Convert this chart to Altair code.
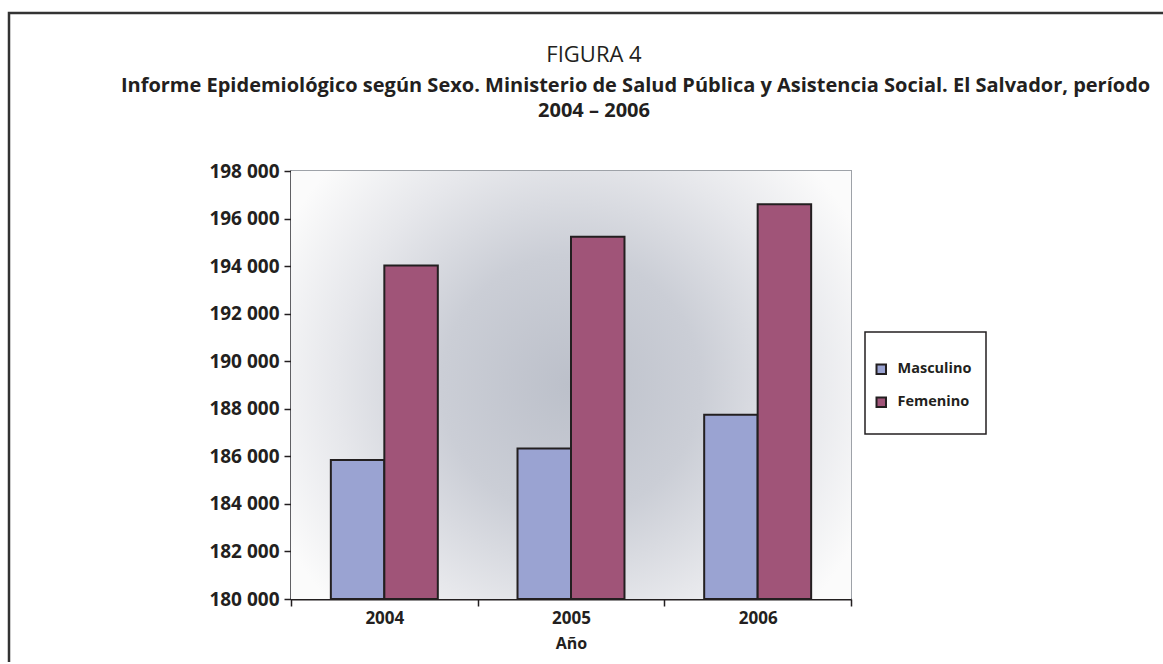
import altair as alt
import pandas as pd

# ---- data ----
years = ["2004", "2005", "2006"]
sexes = ["Masculino", "Femenino"]
masculino = [185850, 186330, 187750]
femenino = [194030, 195230, 196600]
y_ticks = [180000, 182000, 184000, 186000, 188000, 190000, 192000, 194000, 196000, 198000]

title_text = "FIGURA 4"
subtitle_lines = [
    "\u200b" + "\u00a0" * 16
    + "Informe Epidemiológico según Sexo. Ministerio de Salud Pública y Asistencia Social. El Salvador, período",
    "2004 – 2006",
]

rows = []
for i, yr in enumerate(years):
    rows.append({"year": yr, "sexo": "Masculino", "value": masculino[i]})
    rows.append({"year": yr, "sexo": "Femenino", "value": femenino[i]})
df = pd.DataFrame(rows)

FONT = "Open Sans"
INK = "#231f20"
W, H = 560, 428
PAD_L, PAD_T = 291, 171

bg = alt.Chart(pd.DataFrame({"a": [0]})).mark_rect(
    fill={
        "gradient": "radial",
        "x1": 0.5, "y1": 0.5, "r1": 0,
        "x2": 0.5, "y2": 0.5, "r2": 0.58,
        "stops": [
            {"offset": 0.0, "color": "#bcc0ca"},
            {"offset": 0.4, "color": "#cbced6"},
            {"offset": 0.72, "color": "#e6e7eb"},
            {"offset": 1.0, "color": "#fbfbfb"},
        ],
    },
    strokeWidth=0,
).encode(
    x=alt.value(0), x2=alt.value("width"), y=alt.value(0), y2=alt.value("height")
)

bars = alt.Chart(df).mark_bar(stroke=INK, strokeWidth=2).encode(
    x=alt.X(
        "year:N",
        sort=years,
        scale=alt.Scale(paddingInner=0, paddingOuter=0),
        axis=alt.Axis(
            title="Año",
            labelAngle=0,
            tickBand="extent",
            labelFontSize=17,
            titleFontSize=16,
            labelPadding=4,
            titlePadding=9,
        ),
    ),
    xOffset=alt.XOffset(
        "sexo:N", sort=sexes, scale=alt.Scale(paddingInner=0, paddingOuter=0.745)
    ),
    y=alt.Y(
        "value:Q",
        scale=alt.Scale(domain=[180000, 198000], zero=False, nice=False),
        axis=alt.Axis(
            title=None,
            values=y_ticks,
            labelExpr="replace(format(datum.value, ','), ',', ' ')",
            labelFontSize=19,
            labelPadding=5,
        ),
    ),
    y2=alt.datum(180000),
    color=alt.Color(
        "sexo:N",
        sort=sexes,
        scale=alt.Scale(domain=sexes, range=["#9aa3d2", "#a05478"]),
        legend=alt.Legend(
            title=None,
            orient="none",
            legendX=583,
            legendY=191,
            symbolType="square",
            symbolSize=90,
            symbolStrokeColor=INK,
            symbolStrokeWidth=2,
            labelFontSize=14.5,
            labelFontWeight="bold",
            labelFont=FONT,
            labelColor=INK,
            labelOffset=9,
            rowPadding=15,
            padding=0,
        ),
    ),
)

legend_box = alt.Chart(pd.DataFrame({"a": [0]})).mark_rect(
    fill="white", stroke=INK, strokeWidth=1.5
).encode(
    x=alt.value(574), x2=alt.value(695), y=alt.value(161), y2=alt.value(263)
)

frame = alt.Chart(pd.DataFrame({"a": [0]})).mark_rect(
    fill=None, fillOpacity=0, stroke="#333333", strokeWidth=2.5
).encode(
    x=alt.value(9 - PAD_L), x2=alt.value(1400), y=alt.value(13 - PAD_T), y2=alt.value(900)
)

chart = (
    alt.layer(frame, bg, legend_box, bars)
    .properties(
        width=W,
        height=H,
        autosize=alt.AutoSizeParams(type="none"),
        padding={"left": PAD_L, "top": PAD_T, "right": 1163 - PAD_L - W, "bottom": 662 - PAD_T - H},
        title=alt.TitleParams(
            text=title_text,
            subtitle=subtitle_lines,
            anchor="middle",
            frame="group",
            dx=23,
            offset=-110,
            font=FONT,
            fontSize=22,
            fontWeight="normal",
            color=INK,
            subtitleFont=FONT,
            subtitleFontSize=20,
            subtitleFontWeight="bold",
            subtitleColor=INK,
            subtitleLineHeight=25,
            subtitlePadding=9,
        ),
    )
    .configure(background="white")
    .configure_view(stroke="#9ea2a8", strokeWidth=2)
    .configure_axis(
        labelFont=FONT,
        titleFont=FONT,
        labelFontWeight="bold",
        titleFontWeight="bold",
        labelColor=INK,
        titleColor=INK,
        domainColor=INK,
        domainWidth=2,
        tickColor=INK,
        tickWidth=1.5,
        tickSize=7,
        grid=False,
    )
)

chart.save("out.html", embed_options={"renderer": "svg", "actions": False})
